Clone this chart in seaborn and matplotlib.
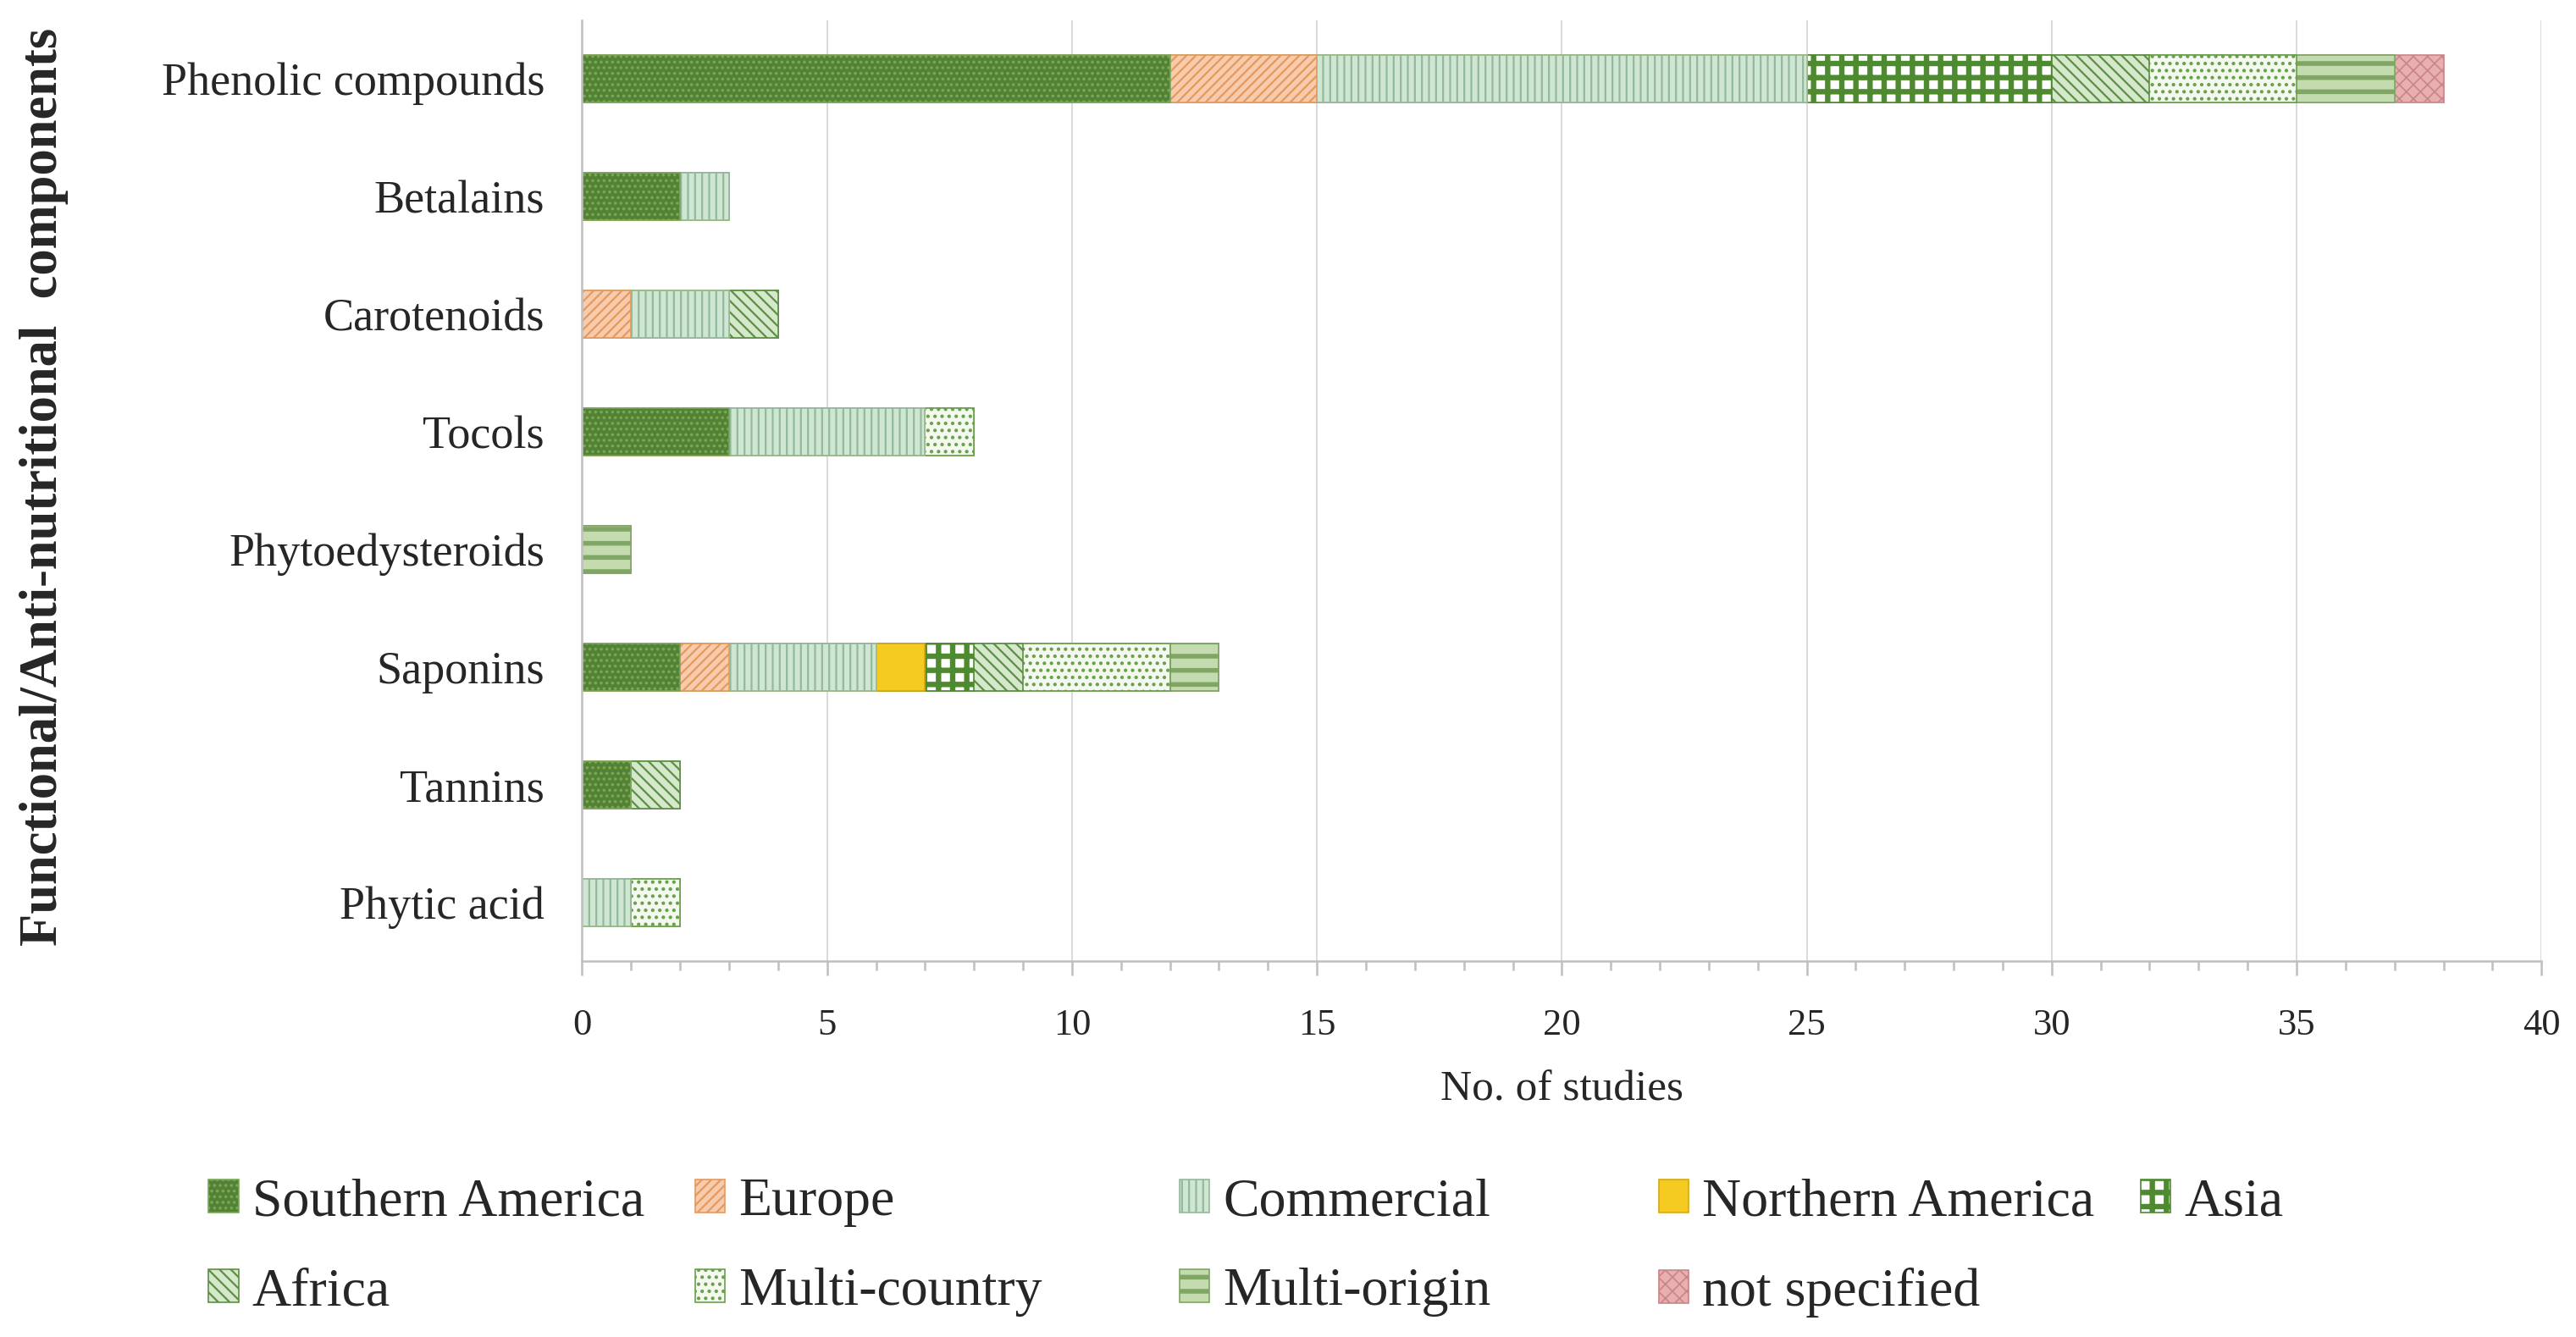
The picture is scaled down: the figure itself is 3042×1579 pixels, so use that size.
import numpy as np
import pandas as pd
import seaborn as sns
import matplotlib.pyplot as plt
from matplotlib.patches import Patch
from matplotlib.ticker import MultipleLocator

sns.set_theme(style="white")
plt.rcParams['font.family'] = ['Liberation Serif', 'DejaVu Serif']
plt.rcParams['hatch.linewidth'] = 0.8

# data
components = ['Phenolic compounds', 'Betalains', 'Carotenoids', 'Tocols',
              'Phytoedysteroids', 'Saponins', 'Tannins', 'Phytic acid']
origins = ['Southern America', 'Europe', 'Commercial', 'Northern America', 'Asia',
           'Africa', 'Multi-country', 'Multi-origin', 'not specified']

southern_america = [12, 2, 0, 3, 0, 2, 1, 0]
europe           = [3, 0, 1, 0, 0, 1, 0, 0]
commercial       = [10, 1, 2, 4, 0, 3, 0, 1]
northern_america = [0, 0, 0, 0, 0, 1, 0, 0]
asia             = [5, 0, 0, 0, 0, 1, 0, 0]
africa           = [2, 0, 1, 0, 0, 1, 1, 0]
multi_country    = [3, 0, 0, 1, 0, 3, 0, 1]
multi_origin     = [2, 0, 0, 0, 1, 1, 0, 0]
not_specified    = [1, 0, 0, 0, 0, 0, 0, 0]

series = [southern_america, europe, commercial, northern_america, asia,
          africa, multi_country, multi_origin, not_specified]

# style per origin: face, hatch/edge colour, hatch, hatch width
styles = {
    'Southern America': ('#548235', '#79A85A', '.....', 0.8),
    'Europe':           ('#F8CBAD', '#E49A5E', '//////', 0.8),
    'Commercial':       ('#CFE6D2', '#93B99C', '||||', 0.8),
    'Northern America': ('#F5CB22', '#D4A91A', '', 0.8),
    'Asia':             ('#FFFFFF', '#4E8A30', '++', 2.3),
    'Africa':           ('#D5E8CB', '#5E8F45', '\\\\\\\\\\', 0.8),
    'Multi-country':    ('#F4F9EF', '#6A9F4B', '....', 0.9),
    'Multi-origin':     ('#C3DBAE', '#7FA665', '--', 2.0),
    'not specified':    ('#E8AEB0', '#C98587', 'xxxx', 0.6),
}

cum = np.cumsum(np.array(series, dtype=float), axis=0)

fig = plt.figure(figsize=(15.21, 7.895), dpi=200)
ax = fig.add_axes([0.226, 0.281, 0.7606, 0.704])

# stacked bars: draw cumulative totals from last to first
for k in range(len(origins) - 1, -1, -1):
    name = origins[k]
    face, edge, hatch, hlw = styles[name]
    vals = cum[k].copy()
    vals[vals == 0] = np.nan
    df = pd.DataFrame({'component': components, 'n': vals})
    with plt.rc_context({'hatch.linewidth': hlw}):
        sns.barplot(data=df, x='n', y='component', orient='h', order=components,
                    color=face, edgecolor=edge, hatch=hatch, linewidth=0.6,
                    width=0.4, saturation=1, ax=ax)

ax.set_xlim(0, 40)
ax.set_ylim(7.5, -0.5)
ax.xaxis.set_major_locator(MultipleLocator(5))
ax.xaxis.set_minor_locator(MultipleLocator(1))
ax.grid(axis='x', which='major', color='#D9D9D9', linewidth=0.7)
ax.set_axisbelow(True)
for s in ['top', 'right']:
    ax.spines[s].set_visible(False)
for s in ['left', 'bottom']:
    ax.spines[s].set_color('#BFBFBF')
    ax.spines[s].set_linewidth(0.9)
ax.tick_params(axis='x', which='major', length=6, width=0.9, color='#BFBFBF',
               direction='out', bottom=True, labelsize=16, pad=14)
ax.tick_params(axis='x', which='minor', length=4, width=0.9, color='#BFBFBF',
               direction='out', bottom=True)
ax.tick_params(axis='y', length=0, labelsize=19.5, pad=16)
ax.set_xlabel('No. of studies', fontsize=18.5, labelpad=12)
ax.set_ylabel('')
fig.text(0.017, 0.636, 'Functional/Anti-nutritional  components', rotation=90,
         fontsize=22.5, fontweight='bold', ha='center', va='center')

# legend, row-wise like the original, one legend per column
handles = {}
for name in origins:
    face, edge, hatch, hlw = styles[name]
    handles[name] = Patch(facecolor=face, edgecolor=edge, hatch=hatch,
                          linewidth=0.6, label=name)
columns = [['Southern America', 'Africa'], ['Europe', 'Multi-country'],
           ['Commercial', 'Multi-origin'], ['Northern America', 'not specified'],
           ['Asia']]
col_x = [0.081, 0.270, 0.458, 0.644, 0.831]
for names, x in zip(columns, col_x):
    leg = fig.legend(handles=[handles[n] for n in names], loc='upper left',
                     bbox_to_anchor=(x, 0.119), bbox_transform=fig.transFigure,
                     frameon=False, fontsize=23, handlelength=0.55,
                     handleheight=0.55, handletextpad=0.25, labelspacing=0.75,
                     borderaxespad=0, borderpad=0)
    # legend patches get the hatch width of the bars
    for n, p in zip(names, leg.get_patches()):
        if hasattr(p, '_hatch_linewidth'):
            p._hatch_linewidth = styles[n][3]

fig.savefig('out.png', dpi=200)
